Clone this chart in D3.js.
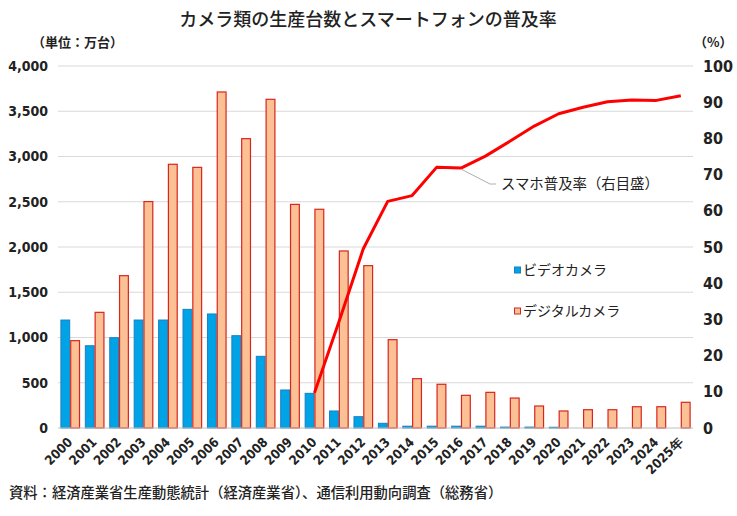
<!DOCTYPE html>
<meta charset="utf-8">
<style>
body { margin: 0; background: #fff; }
svg { display: block; }
.jp { font-family: "Noto Sans CJK JP", sans-serif; fill: #222; }
.num { font-family: "Liberation Sans Narrow", "DejaVu Sans Condensed", sans-serif; font-weight: bold; font-size: 15px; fill: #222; }
.grid line { stroke: #d9d9d9; stroke-width: 1; }
</style>
<svg id="chart" width="737" height="516"></svg>
<script src="https://cdn.jsdelivr.net/npm/d3@7"></script>
<script>
// data
var years = ["2000","2001","2002","2003","2004","2005","2006","2007","2008","2009","2010","2011","2012",
             "2013","2014","2015","2016","2017","2018","2019","2020","2021","2022","2023","2024","2025"];
var yearLabels = years.map(function(d, i) { return i == years.length - 1 ? d + "年" : d; });
var video   = [1193, 909, 998, 1193, 1193, 1311, 1260, 1020, 792, 420, 383, 188, 125,
               52, 20, 20, 20, 20, 10, 10, 8, 0, 0, 0, 0, 0];
var digital = [965, 1278, 1683, 2502, 2914, 2880, 3713, 3197, 3632, 2471, 2417, 1956, 1794,
               976, 545, 483, 361, 394, 331, 243, 188, 202, 202, 235, 235, 284];
var phoneYears = ["2010","2011","2012","2013","2014","2015","2016","2017","2018","2019","2020","2021","2022","2023","2024","2025"];
var phoneRate  = [9.7, 29.3, 49.5, 62.6, 64.2, 72.0, 71.8, 75.1, 79.2, 83.4, 86.8, 88.6, 90.1, 90.6, 90.5, 91.8];
var leftTicks  = [0, 500, 1000, 1500, 2000, 2500, 3000, 3500, 4000];
var rightTicks = [0, 10, 20, 30, 40, 50, 60, 70, 80, 90, 100];

var svg = d3.select("#chart");
var mLeft = 58, mRight = 693, mTop = 66, mBottom = 428;

var x = d3.scaleBand().domain(years).range([mLeft, mRight]);
var x1 = d3.scaleBand().domain(["video", "digital"]).range([0, x.bandwidth()]).paddingOuter(0.245);
var y = d3.scaleLinear().domain([0, 4000]).range([mBottom, mTop]);
var y2 = d3.scaleLinear().domain([0, 100]).range([mBottom, mTop]);

// title
svg.append("text").attr("class", "jp")
  .attr("x", 368).attr("y", 26)
  .attr("text-anchor", "middle")
  .style("font-size", "18px").style("font-weight", "500")
  .text("カメラ類の生産台数とスマートフォンの普及率");

svg.append("text").attr("class", "jp")
  .attr("x", 32).attr("y", 47)
  .style("font-size", "13px").style("font-weight", "bold")
  .text("（単位：万台）");

svg.append("text").attr("class", "jp")
  .attr("x", 694).attr("y", 47)
  .style("font-size", "13px").style("font-weight", "bold")
  .text("（%）");

// gridlines
svg.append("g").attr("class", "grid")
  .selectAll("line").data(leftTicks.slice(1))
  .enter().append("line")
  .attr("x1", mLeft).attr("x2", mRight)
  .attr("y1", function(d) { return y(d); })
  .attr("y2", function(d) { return y(d); });

// left axis labels
var fmt = d3.format(",");
svg.append("g").selectAll("text").data(leftTicks)
  .enter().append("text").attr("class", "num")
  .style("font-size", "14px")
  .attr("x", 48).attr("y", function(d) { return y(d); })
  .attr("dy", "0.35em").attr("text-anchor", "end")
  .text(function(d) { return fmt(d); });

// right axis labels
svg.append("g").selectAll("text").data(rightTicks)
  .enter().append("text").attr("class", "num")
  .style("font-size", "16px")
  .attr("x", 703).attr("y", function(d) { return y2(d); })
  .attr("dy", "0.35em")
  .text(function(d) { return d; });

// bars
var barsV = svg.append("g");
video.forEach(function(v, i) {
  if (v <= 0) return;
  barsV.append("rect")
    .attr("x", x(years[i]) + x1("video") + 0.5)
    .attr("y", y(v))
    .attr("width", x1.bandwidth() - 1)
    .attr("height", y(0) - y(v))
    .attr("fill", "#00a3e6")
    .attr("stroke", "#1b7fc0").attr("stroke-width", 1);
});

var barsD = svg.append("g");
digital.forEach(function(v, i) {
  barsD.append("rect")
    .attr("x", x(years[i]) + x1("digital") + 0.5)
    .attr("y", y(v))
    .attr("width", x1.bandwidth() - 1)
    .attr("height", y(0) - y(v))
    .attr("fill", "#fbc194")
    .attr("stroke", "#d7261e").attr("stroke-width", 1.2);
});

// baseline
svg.append("line")
  .attr("x1", mLeft).attr("x2", mRight)
  .attr("y1", y(0)).attr("y2", y(0))
  .attr("stroke", "#bfbfbf").attr("stroke-width", 1);

// x labels
svg.append("g").selectAll("text").data(years)
  .enter().append("text").attr("class", "num")
  .style("font-size", "13px")
  .attr("text-anchor", "end")
  .attr("transform", function(d) {
    return "translate(" + (x(d) + x.bandwidth() / 2 + 3) + "," + (mBottom + 15) + ") rotate(-45)";
  })
  .text(function(d, i) { return yearLabels[i]; });

// smartphone line
var line = d3.line()
  .x(function(d, i) { return x(phoneYears[i]) + x.bandwidth() / 2; })
  .y(function(d) { return y2(d); });

svg.append("path")
  .datum(phoneRate)
  .attr("d", line)
  .attr("fill", "none")
  .attr("stroke", "#ff0000")
  .attr("stroke-width", 3)
  .attr("stroke-linejoin", "round");

// leader + annotation
var px = x("2016") + x.bandwidth() / 2, py = y2(phoneRate[phoneYears.indexOf("2016")]);
svg.append("polyline")
  .attr("points", [[px, py + 1], [490, 184], [496, 184]].join(" "))
  .attr("fill", "none").attr("stroke", "#b0b0b0").attr("stroke-width", 1);

svg.append("text").attr("class", "jp")
  .attr("x", 501).attr("y", 184).attr("dy", "0.35em")
  .style("font-size", "14.4px")
  .text("スマホ普及率（右目盛）");

// legend
var legend = [["ビデオカメラ", "#00a3e6", "#1b7fc0", 270], ["デジタルカメラ", "#fbc194", "#d7261e", 311]];
var lg = svg.selectAll(".legend").data(legend)
  .enter().append("g").attr("class", "legend")
  .attr("transform", function(d) { return "translate(514," + d[3] + ")"; });
lg.append("rect")
  .attr("x", 0.5).attr("y", -3).attr("width", 6).attr("height", 6)
  .attr("fill", function(d) { return d[1]; })
  .attr("stroke", function(d) { return d[2]; });
lg.append("text").attr("class", "jp")
  .attr("x", 9).attr("dy", "0.35em")
  .style("font-size", "14px")
  .text(function(d) { return d[0]; });

// source
svg.append("text").attr("class", "jp")
  .attr("x", 9).attr("y", 493).attr("dy", "0.35em")
  .style("font-size", "14.3px").style("font-weight", "500")
  .text("資料：経済産業省生産動態統計（経済産業省）、通信利用動向調査（総務省）");
</script>
